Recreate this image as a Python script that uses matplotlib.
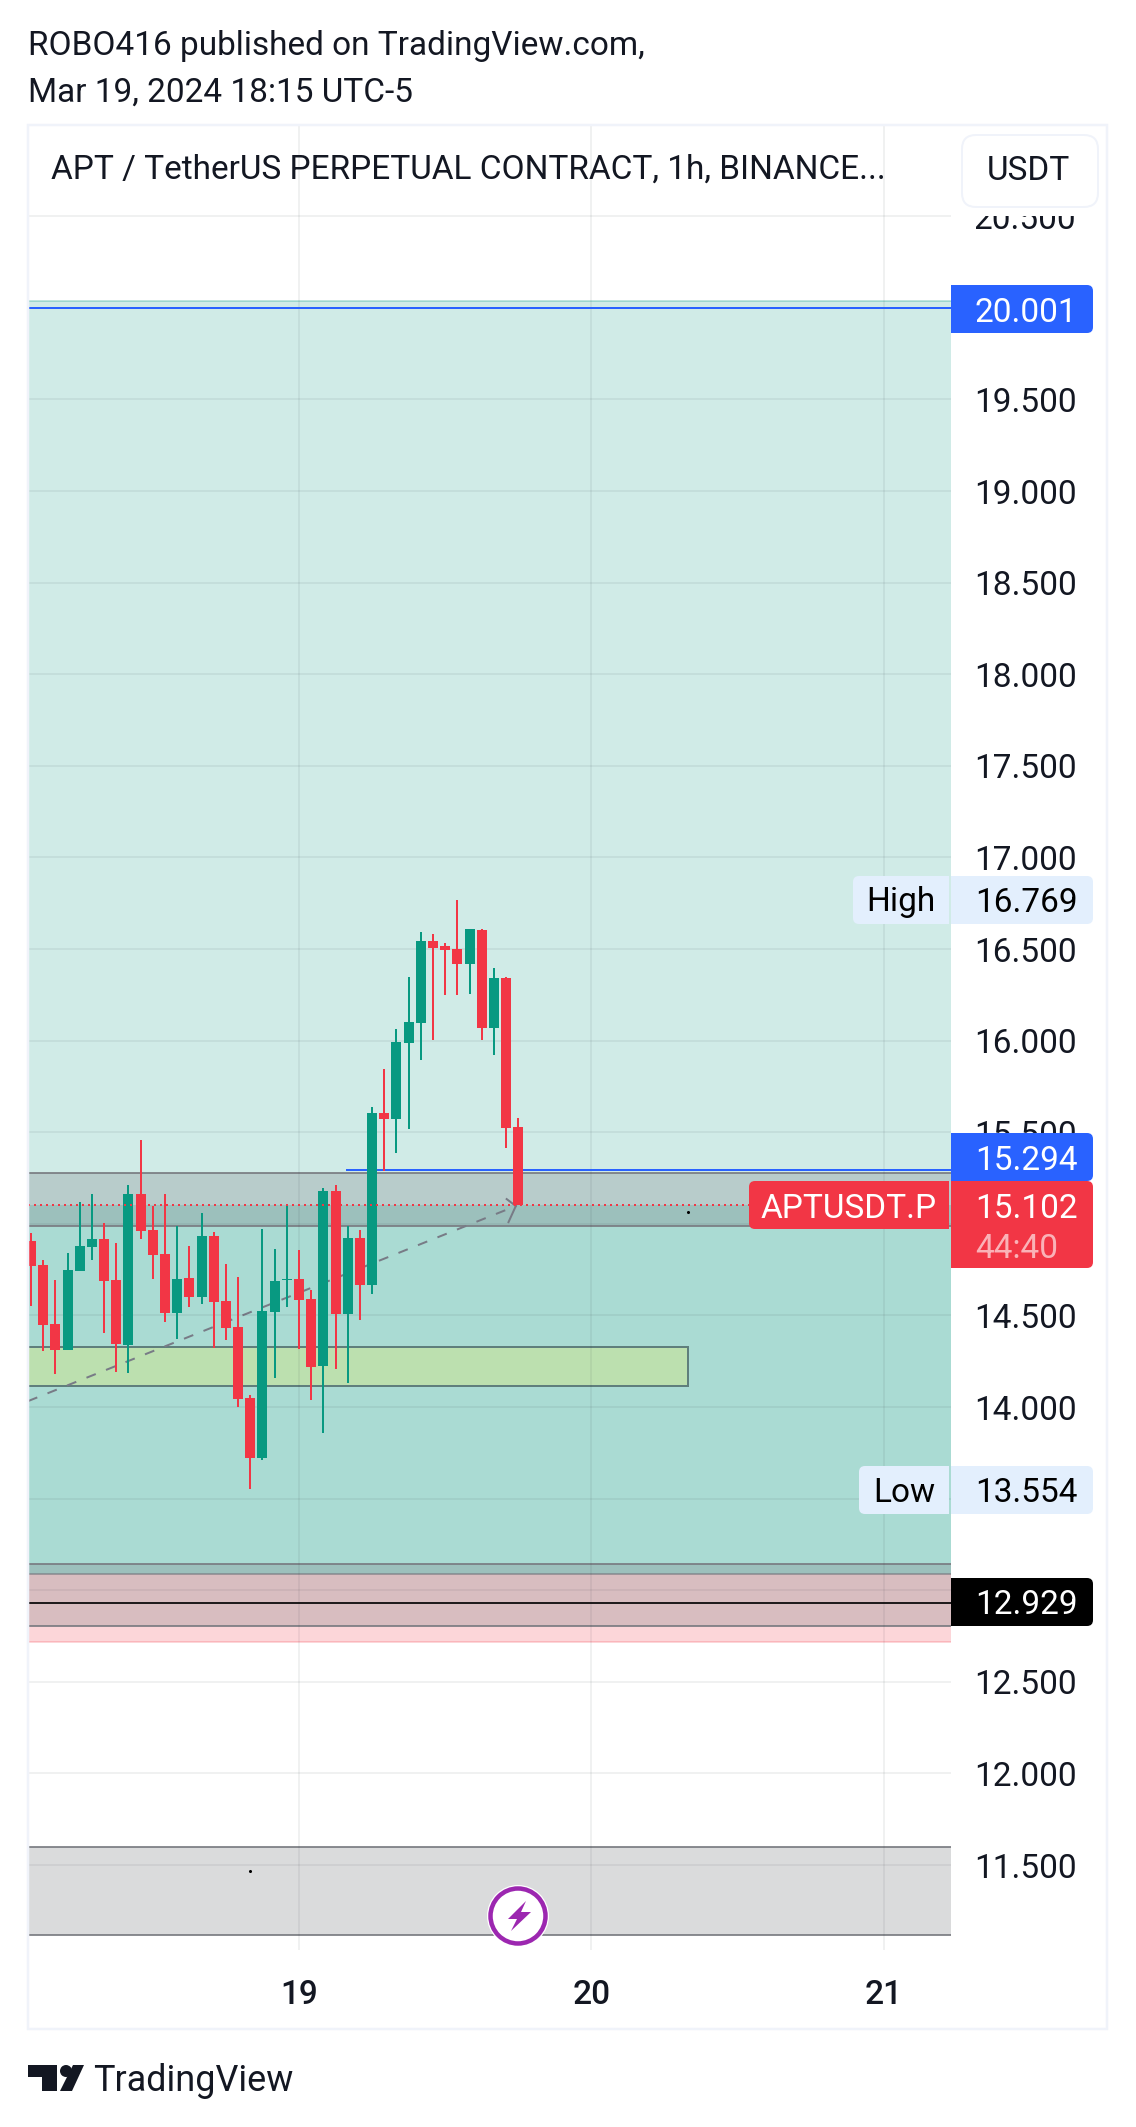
import matplotlib
matplotlib.use("Agg")
import matplotlib.pyplot as plt
from matplotlib.patches import Rectangle, FancyBboxPatch, Circle, Polygon

plt.rcParams['font.family'] = ['Roboto', 'DejaVu Sans']

# ---------- data ----------
hours = list(range(-22, 19))          # hours relative to the "19" day boundary
opens = [14.906, 14.775, 14.453, 14.311, 14.742, 14.873, 14.917, 14.693, 14.338, 15.163, 14.966,
         14.835, 14.513, 14.704, 14.600, 14.933, 14.578, 14.436, 14.049, 13.721, 14.518, 14.693,
         14.699, 14.589, 14.224, 15.179, 14.507, 14.922, 14.666, 15.605, 15.572, 15.987, 16.096,
         16.544, 16.516, 16.500, 16.418, 16.604, 16.069, 16.342, 15.528]
highs = [14.950, 14.802, 14.693, 14.840, 15.119, 15.163, 15.004, 14.895, 15.212, 15.457, 15.097,
         15.163, 14.988, 14.879, 15.059, 14.955, 14.780, 14.709, 14.065, 14.971, 14.862, 15.102,
         14.857, 14.638, 15.195, 15.212, 14.988, 14.966, 15.637, 15.845, 16.063, 16.347, 16.593,
         16.582, 16.533, 16.769, 16.609, 16.609, 16.396, 16.347, 15.577]
lows = [14.551, 14.305, 14.180, 14.311, 14.742, 14.802, 14.404, 14.191, 14.185, 14.917, 14.699,
        14.464, 14.371, 14.546, 14.562, 14.322, 14.366, 14.000, 13.554, 13.710, 14.158, 14.546,
        14.316, 14.038, 13.858, 14.207, 14.131, 14.475, 14.617, 15.288, 15.386, 15.517, 15.894,
        16.003, 16.249, 16.249, 16.254, 16.002, 15.921, 15.414, 15.102]
closes = [14.769, 14.447, 14.311, 14.748, 14.879, 14.917, 14.688, 14.344, 15.163, 14.961, 14.830,
          14.513, 14.699, 14.600, 14.933, 14.573, 14.431, 14.043, 13.721, 14.524, 14.688, 14.699,
          14.584, 14.218, 15.179, 14.507, 14.922, 14.666, 15.605, 15.572, 15.992, 16.101, 16.544,
          16.505, 16.495, 16.418, 16.609, 16.069, 16.342, 15.523, 15.102]

price_ticks = [11.5, 12.0, 12.5, 13.0, 13.5, 14.0, 14.5, 15.0, 15.5, 16.0, 16.5, 17.0, 17.5, 18.0,
               18.5, 19.0, 19.5, 20.0, 20.5]
covered_ticks = [13.0, 13.5, 15.0, 20.0]   # fully hidden behind price badges in the chart
day_ticks = [0, 24, 48]
day_labels = ['19', '20', '21']

last_price = 15.102
target_line = 20.001
entry_line = 15.294
entry_line_start = 3.94
stop_line = 12.929

profit_zone = (15.102, 20.037)
profit_zone_low = (13.088, 15.102)
loss_zone = (12.717, 13.088)
grey_zones = [(14.988, 15.277), (12.804, 13.143), (11.120, 11.598)]
green_zone = (14.114, 14.327)
green_zone_end = 31.95
trend_x = [-22.25, 17.8]
trend_y = [14.032, 15.097]
head_a_x = [17.05, 17.8]
head_a_y = [15.135, 15.097]
head_b_x = [17.2, 17.8]
head_b_y = [15.009, 15.097]
dots_x = [31.95, -4.0]
dots_y = [15.064, 11.467]

# ---------- layout (pixels) ----------
W, H = 1136, 2127
AX_L, AX_R, AX_T, AX_B = 28, 951, 125, 1950
X0_PX, PX_PER_HOUR = 299, 12.18
Y_REF_PX, Y_REF_PRICE, PX_PER_UNIT = 949, 16.5, 183.2
GREEN, RED, BLUE = '#089981', '#f23645', '#2962ff'
INK = '#131722'
FS = 24.05
px = 0.72  # one pixel in points at dpi 100

fig = plt.figure(figsize=(W / 100, H / 100), dpi=100, facecolor='white')
ax = fig.add_axes([AX_L / W, 1 - AX_B / H, (AX_R - AX_L) / W, (AX_B - AX_T) / H])
ax.set_xlim((AX_L - X0_PX) / PX_PER_HOUR, (AX_R - X0_PX) / PX_PER_HOUR)
ax.set_ylim(Y_REF_PRICE - (AX_B - Y_REF_PX) / PX_PER_UNIT, Y_REF_PRICE + (Y_REF_PX - AX_T) / PX_PER_UNIT)
for s in ax.spines.values():
    s.set_visible(False)

# axis
ax.yaxis.tick_right()
ax.set_yticks(price_ticks)
ax.set_yticklabels(['' if p in covered_ticks else f'{p:.3f}' for p in price_ticks], fontsize=FS, color=INK)
ax.set_xticks(day_ticks)
ax.set_xticklabels(day_labels, fontsize=FS, color=INK, fontweight='medium')
ax.tick_params(axis='y', length=0, pad=16.5)
ax.tick_params(axis='x', length=0, pad=21)
ax.set_axisbelow(False)
ax.grid(True, color='#2a2e39', alpha=0.065, lw=2 * px, zorder=2)
for gl in ax.get_xgridlines() + ax.get_ygridlines():
    gl.set_zorder(2)

# zones
TEAL_A, PINK_A, GREY_A = 0.19, 0.20, 0.27
GREY = '#787a80'
ax.axhspan(profit_zone_low[0], profit_zone[1], fc=GREEN, alpha=TEAL_A, lw=0, zorder=1)
ax.axhline(profit_zone[1], color=GREEN, alpha=0.25, lw=2 * px, zorder=1)
ax.axhspan(profit_zone_low[0], profit_zone_low[1], fc=GREEN, alpha=TEAL_A, lw=0, zorder=1)
ax.axhspan(loss_zone[0], loss_zone[1], fc=RED, alpha=PINK_A, lw=0, zorder=1)
ax.axhline(loss_zone[0], color=RED, alpha=0.2, lw=2 * px, zorder=1)
ax.axhline(loss_zone[1], color=GREY, alpha=0.6, lw=2 * px, zorder=1)
for lo, hi in grey_zones:
    ax.axhspan(lo, hi, fc=GREY, alpha=GREY_A, lw=0, zorder=1.1)
    ax.axhline(lo, color=GREY, alpha=0.85, lw=2 * px, zorder=1.2)
    ax.axhline(hi, color=GREY, alpha=0.85, lw=2 * px, zorder=1.2)
ax.add_patch(Rectangle((ax.get_xlim()[0] - 1, green_zone[0]), green_zone_end - ax.get_xlim()[0] + 1,
                       green_zone[1] - green_zone[0], fc=(231 / 255, 236 / 255, 94 / 255, 0.3),
                       ec='#5f7f7c', lw=2 * px, zorder=1.3))

# trend line with arrow
ax.plot(trend_x, trend_y, color='#787b86', lw=2 * px, ls=(0, (5, 5.5)), zorder=2.5, dash_capstyle='butt')
ax.plot(head_a_x, head_a_y, color='#787b86', lw=2 * px, zorder=2.5)
ax.plot(head_b_x, head_b_y, color='#787b86', lw=2 * px, zorder=2.5)

# horizontal levels
ax.axhline(target_line, color=BLUE, lw=2 * px, zorder=2.6)
ax.plot([entry_line_start, ax.get_xlim()[1]], [entry_line, entry_line], color=BLUE, lw=2 * px, zorder=2.6)
ax.axhline(stop_line, color='#000000', alpha=0.85, lw=2 * px, zorder=2.6)

# candles
colors = [GREEN if c >= o else RED for o, c in zip(opens, closes)]
ax.vlines(hours, lows, highs, colors=colors, lw=2 * px, zorder=3)
ax.bar(hours, [abs(c - o) for o, c in zip(opens, closes)], bottom=[min(o, c) for o, c in zip(opens, closes)],
       width=10 / PX_PER_HOUR, color=colors, lw=0, zorder=3.1)

# last price dotted
ax.axhline(last_price, color=RED, lw=2 * px, ls=(0, (1, 2)), zorder=3.2, dash_capstyle='butt')
ax.plot(dots_x, dots_y, ls='none', marker='o', ms=1.2, color='black', zorder=3.3)

# ---------- overlay chrome ----------
ov = fig.add_axes([0, 0, 1, 1], zorder=10)
ov.set_xlim(0, W)
ov.set_ylim(H, 0)
ov.axis('off')
ov.patch.set_alpha(0)

BORDER = '#f0f3fa'
ov.add_patch(Rectangle((AX_R, 126), 1107 - AX_R, 216 - 126, fc='white', ec='none', zorder=1))
ov.add_patch(Rectangle((28, 125), 1107 - 28, 2029 - 125, fc='none', ec=BORDER, lw=2.5 * px, zorder=2))
ov.add_patch(FancyBboxPatch((968, 141), 124, 60, boxstyle='round,pad=6,rounding_size=14', fc='white', ec=BORDER,
                            lw=2 * px, zorder=3))
ov.text(1028, 171, 'USDT', fontsize=FS, color=INK, ha='center', va='center', zorder=4)

ov.text(28, 46, 'ROBO416 published on TradingView.com,', fontsize=FS, color=INK, va='center')
ov.text(28, 93, 'Mar 19, 2024 18:15 UTC-5', fontsize=FS, color=INK, va='center')
ov.text(51, 170, 'APT / TetherUS PERPETUAL CONTRACT, 1h, BINANCE...', fontsize=FS, color=INK, va='center')


def badge(x0, x1, y0, y1, color, round_left=False, zorder=5):
    r = 6
    ov.add_patch(FancyBboxPatch((x0 + r, y0 + r), x1 - x0 - 2 * r, y1 - y0 - 2 * r,
                                boxstyle=f'round,pad={r},rounding_size={r}', fc=color, ec='none', zorder=zorder))
    if round_left:
        ov.add_patch(Rectangle((x1 - r * 2, y0), r * 2, y1 - y0, fc=color, ec='none', zorder=zorder))
    else:
        ov.add_patch(Rectangle((x0, y0), r * 2, y1 - y0, fc=color, ec='none', zorder=zorder))


LABEL_X = 1026
for p, bg, fg, y0, y1 in [(20.001, BLUE, 'white', 285, 333), (15.294, BLUE, 'white', 1133, 1181),
                          (16.769, '#e3effd', 'black', 876, 924), (13.554, '#e3effd', 'black', 1466, 1514),
                          (12.929, '#000000', 'white', 1578, 1626)]:
    badge(AX_R, 1093, y0, y1, bg)
    ov.text(LABEL_X, (y0 + y1) / 2, f'{p:.3f}', fontsize=FS, color=fg, ha='center', va='center_baseline', zorder=6)

badge(AX_R, 1093, 1181, 1268, RED)
ov.text(LABEL_X, 1205, f'{last_price:.3f}', fontsize=FS, color='white', ha='center', va='center_baseline', zorder=6)
ov.text(975, 1245, '44:40', fontsize=FS, color=(1, 1, 1, 0.62), ha='left', va='center_baseline', zorder=6)

badge(749, 949, 1181, 1229, RED, round_left=True)
ov.text(849, 1205, 'APTUSDT.P', fontsize=FS, color='white', ha='center', va='center_baseline', zorder=6)
badge(853, 949, 876, 924, '#e3effd', round_left=True)
ov.text(901, 898, 'High', fontsize=FS, color='black', ha='center', va='center_baseline', zorder=6)
badge(859, 949, 1466, 1514, '#e3effd', round_left=True)
ov.text(904, 1489, 'Low', fontsize=FS, color='black', ha='center', va='center_baseline', zorder=6)

# snapshot bolt
ov.add_patch(Circle((518, 1916), 31, fc='white', ec='none', zorder=5))
ov.add_patch(Circle((518, 1916), 27.5, fc='white', ec='#9c27b0', lw=4.5 * px, zorder=6))
ov.add_patch(Polygon([(526, 1901), (508, 1919), (517, 1919), (511, 1931), (531, 1912), (521, 1912)],
                     closed=True, fc='#9c27b0', ec='none', zorder=7))

# TradingView logo
ov.add_patch(Polygon([(28, 2065), (57, 2065), (57, 2091), (42, 2091), (42, 2077), (28, 2077)], closed=True,
                     fc=INK, ec='none'))
ov.add_patch(Circle((66, 2071), 6, fc=INK, ec='none'))
ov.add_patch(Polygon([(73, 2065), (84, 2065), (72, 2091), (60, 2091)], closed=True, fc=INK, ec='none'))
ov.text(93, 2081, 'TradingView', fontsize=25.9, color=INK, va='center')

fig.savefig('out.png', dpi=100, facecolor='white')
